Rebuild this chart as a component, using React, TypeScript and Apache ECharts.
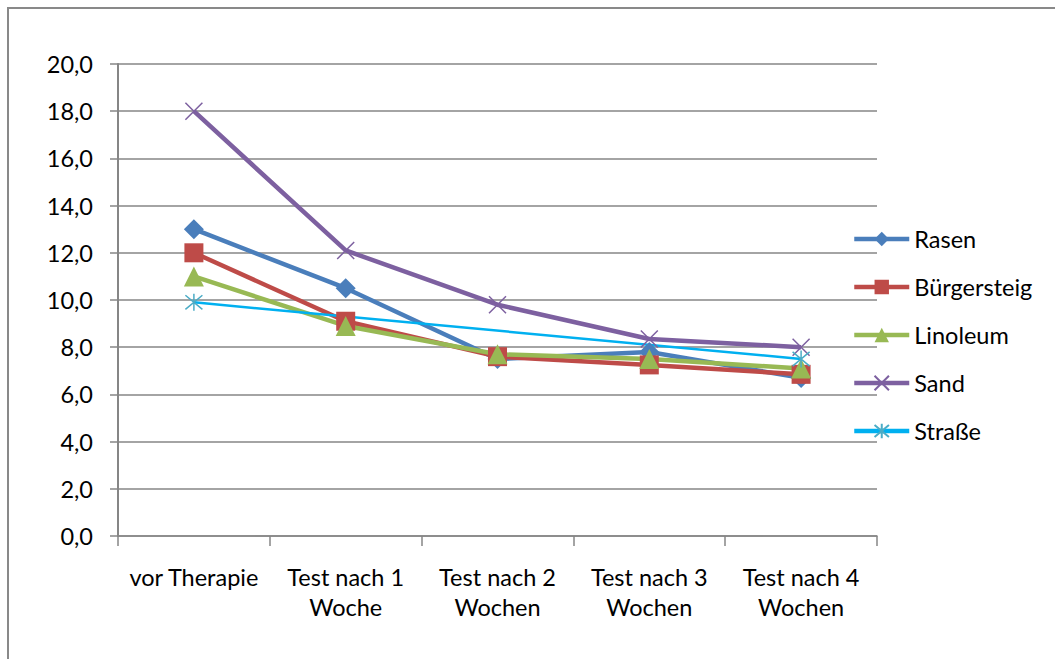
import React, { useEffect, useRef } from "react";
import * as echarts from "echarts";

// Zeitpunkte der Messung
const categories = [
  "vor Therapie",
  "Test nach 1\nWoche",
  "Test nach 2\nWochen",
  "Test nach 3\nWochen",
  "Test nach 4\nWochen",
];

// Messwerte je Untergrund
const rasen = [13.0, 10.5, 7.5, 7.8, 6.7];
const buergersteig = [12.0, 9.1, 7.6, 7.25, 6.85];
const linoleum = [11.0, 8.9, 7.7, 7.5, 7.1];
const sand = [18.0, 12.1, 9.8, 8.35, 8.0];
const strasse = [9.9, null, null, null, 7.5];

const yTicks = { min: 0, max: 20, interval: 2 };

const FONT = "Lato";
const FS = 23.5;

// X- und Sternmarker als offene Pfade (nur Kontur)
const crossPath = "path://M0 0L20 20M20 0L0 20";
const starPath = "path://M0 0L20 20M20 0L0 20M10 -2L10 22";

export default function App() {
  const ref = useRef<HTMLDivElement>(null);

  useEffect(() => {
    if (!ref.current) return;
    const chart = echarts.init(ref.current, undefined, { renderer: "svg" });

    const thick = 4.5;
    const mk = (
      name: string,
      data: (number | null)[],
      color: string,
      symbol: string,
      symbolSize: number,
      extra: any = {}
    ) => ({
      name,
      type: "line",
      data,
      symbol,
      symbolSize,
      showSymbol: true,
      lineStyle: { color, width: thick },
      itemStyle: { color, borderColor: color, borderWidth: 0 },
      emphasis: { disabled: true },
      ...extra,
    });

    chart.setOption({
      animation: false,
      textStyle: { fontFamily: FONT },
      graphic: [
        {
          type: "rect",
          shape: { x: 8, y: 8, width: 1200, height: 800 },
          style: { fill: "none", stroke: "#898989", lineWidth: 2 },
          silent: true,
        },
      ],
      grid: { left: 118, right: 178, top: 64, bottom: 123 },
      legend: {
        orient: "vertical",
        left: 852,
        top: 227,
        padding: 0,
        itemWidth: 55,
        itemHeight: 18,
        itemGap: 24,
        textStyle: { fontFamily: FONT, fontSize: FS, color: "#000", lineHeight: 24 },
        data: [
          { name: "Rasen", lineStyle: { width: 4.5 } },
          { name: "Bürgersteig", lineStyle: { width: 4.5 } },
          { name: "Linoleum", lineStyle: { width: 4.5 } },
          { name: "Sand", lineStyle: { width: 4.5 } },
          { name: "Straße", lineStyle: { width: 4.5 } },
        ],
      },
      xAxis: {
        type: "category",
        data: categories,
        boundaryGap: true,
        axisLine: { lineStyle: { color: "#868686", width: 1.5 } },
        axisTick: { show: true, length: 10, lineStyle: { color: "#868686", width: 1.5 } },
        axisLabel: {
          color: "#000",
          fontFamily: FONT,
          fontSize: FS,
          lineHeight: 30,
          margin: 26,
          interval: 0,
        },
      },
      yAxis: {
        type: "value",
        min: yTicks.min,
        max: yTicks.max,
        interval: yTicks.interval,
        axisLine: { show: true, lineStyle: { color: "#868686", width: 2 } },
        axisTick: { show: true, length: 8, lineStyle: { color: "#868686", width: 1.5 } },
        splitLine: { lineStyle: { color: "#868686", width: 1.5 } },
        axisLabel: {
          color: "#000",
          fontFamily: FONT,
          fontSize: FS,
          margin: 25,
          formatter: (v: number) => v.toFixed(1).replace(".", ","),
        },
      },
      series: [
        mk("Rasen", rasen, "#4A7EBB", "diamond", 20),
        mk("Bürgersteig", buergersteig, "#BE4B48", "rect", 19),
        mk("Linoleum", linoleum, "#98B954", "triangle", 20),
        mk("Sand", sand, "#7D60A0", crossPath, 17, {
          itemStyle: { color: "#7D60A0", borderColor: "#7D60A0", borderWidth: 1.5 },
        }),
        mk("Straße", strasse, "#00B0F0", starPath, 17, {
          connectNulls: true,
          lineStyle: { color: "#00B0F0", width: 2.5 },
          itemStyle: { color: "#4BACC6", borderColor: "#4BACC6", borderWidth: 1.5 },
        }),
      ],
    });

    return () => chart.dispose();
  }, []);

  return (
    <div
      ref={ref}
      style={{ position: "absolute", left: 0, top: 0, width: 1055, height: 659, background: "#fff" }}
    />
  );
}
